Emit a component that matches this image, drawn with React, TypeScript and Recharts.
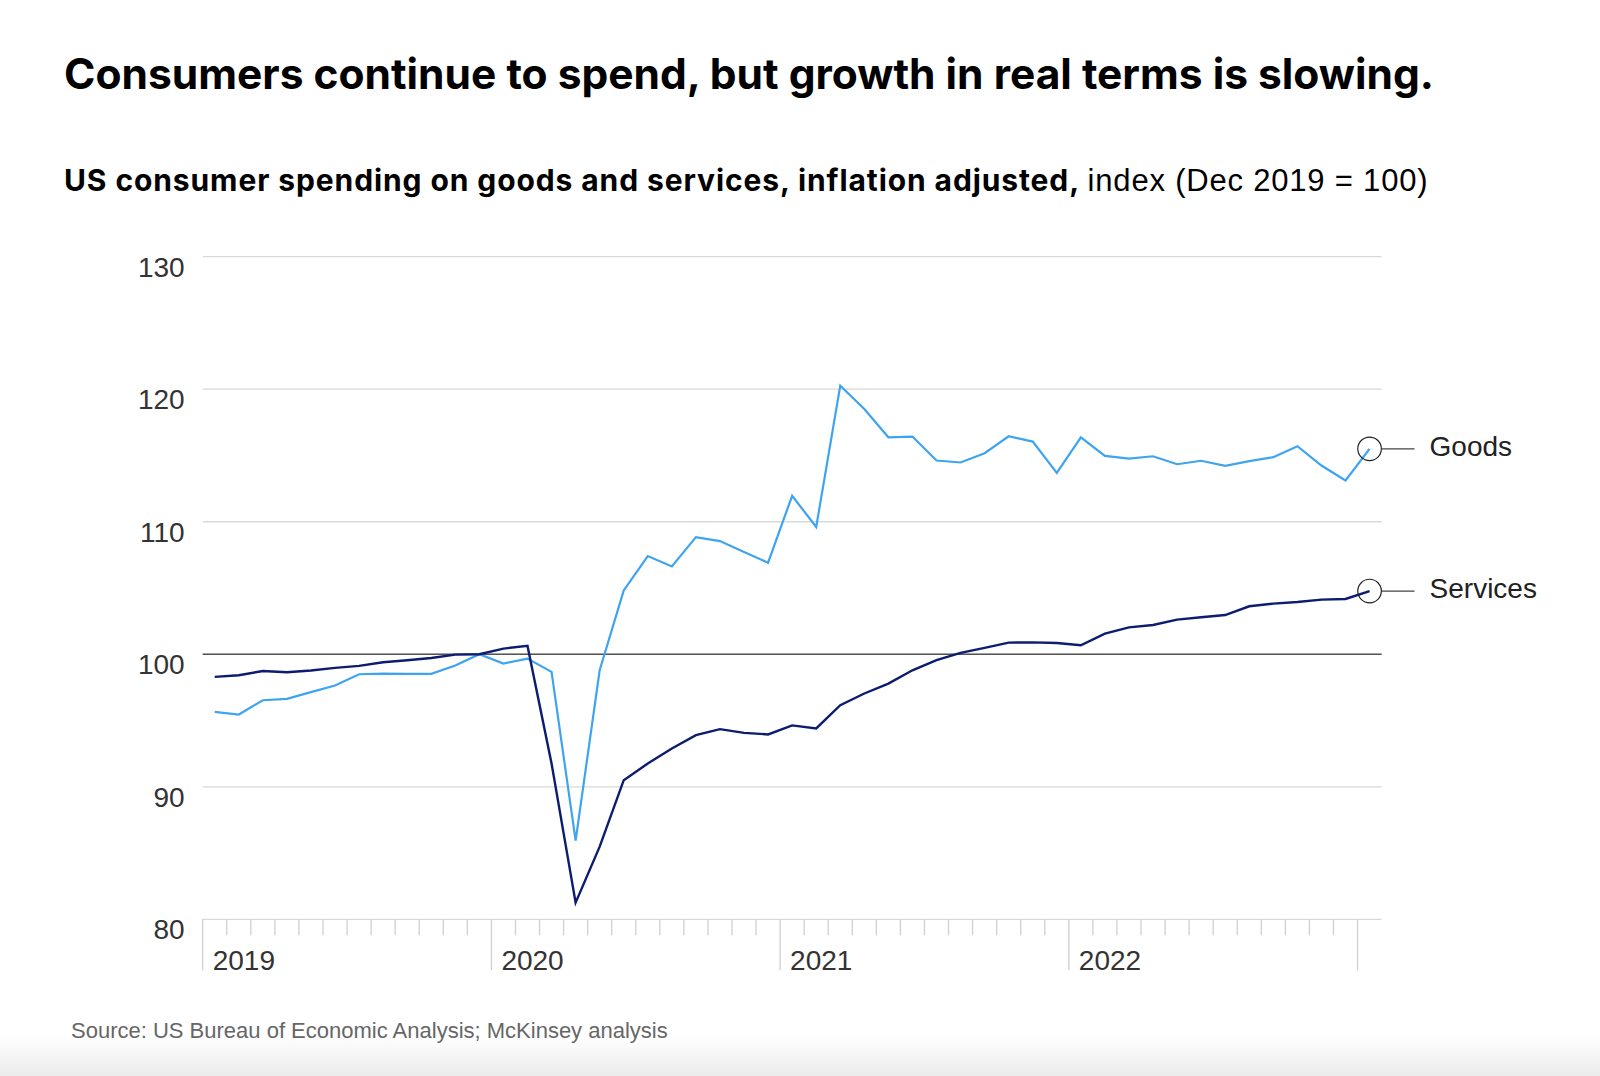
import React from 'react';
import { LineChart, Line, XAxis, YAxis, CartesianGrid, ReferenceLine } from 'recharts';

// Monthly, Jan 2019 – Jan 2023
const months = [
  'Jan 2019', 'Feb 2019', 'Mar 2019', 'Apr 2019', 'May 2019', 'Jun 2019',
  'Jul 2019', 'Aug 2019', 'Sep 2019', 'Oct 2019', 'Nov 2019', 'Dec 2019',
  'Jan 2020', 'Feb 2020', 'Mar 2020', 'Apr 2020', 'May 2020', 'Jun 2020',
  'Jul 2020', 'Aug 2020', 'Sep 2020', 'Oct 2020', 'Nov 2020', 'Dec 2020',
  'Jan 2021', 'Feb 2021', 'Mar 2021', 'Apr 2021', 'May 2021', 'Jun 2021',
  'Jul 2021', 'Aug 2021', 'Sep 2021', 'Oct 2021', 'Nov 2021', 'Dec 2021',
  'Jan 2022', 'Feb 2022', 'Mar 2022', 'Apr 2022', 'May 2022', 'Jun 2022',
  'Jul 2022', 'Aug 2022', 'Sep 2022', 'Oct 2022', 'Nov 2022', 'Dec 2022',
  'Jan 2023',
];

const goods = [
  95.65, 95.45, 96.53, 96.63, 97.14, 97.64, 98.49, 98.54, 98.52, 98.52, 99.15, 100.0,
  99.3, 99.67, 98.67, 85.93, 98.79, 104.82, 107.41, 106.63, 108.84, 108.54, 107.71, 106.91,
  111.96, 109.6, 120.27, 118.51, 116.37, 116.43, 114.62, 114.47, 115.17, 116.45, 116.05, 113.69,
  116.37, 114.97, 114.77, 114.94, 114.34, 114.6, 114.22, 114.57, 114.87, 115.7, 114.24, 113.11,
  115.5,
];

const services = [
  98.29, 98.42, 98.74, 98.64, 98.77, 98.97, 99.12, 99.4, 99.55, 99.72, 99.97, 100.0,
  100.43, 100.63, 91.76, 81.26, 85.48, 90.5, 91.76, 92.89, 93.9, 94.35, 94.07, 93.95,
  94.63, 94.4, 96.16, 97.04, 97.79, 98.79, 99.55, 100.1, 100.48, 100.88, 100.9, 100.85,
  100.68, 101.56, 102.03, 102.21, 102.61, 102.79, 102.96, 103.62, 103.82, 103.94, 104.12, 104.17,
  104.77,
];

const yearLabels = ['2019', '2020', '2021', '2022'];
const yTicks = [80, 90, 100, 110, 120, 130];

const GOODS_COLOR = '#3ea4f0';
const SERVICES_COLOR = '#0c1c6e';
const SANS = '"Liberation Sans", Arial, sans-serif';
const HEAD = 'Inter, "Liberation Sans", sans-serif';

// x sits in the middle of each month so the ticks fall on month boundaries
const data = months.map((m, i) => ({ month: m, x: i + 0.5, goods: goods[i], services: services[i] }));
const monthTicks = months.map((_, i) => i);

const YTick = (props: any) => {
  const { x, y, payload } = props;
  return (
    <text x={x - 18} y={y + 20} textAnchor="end" fontSize={28} fill="#333" fontFamily={SANS}>
      {payload.value}
    </text>
  );
};

const XTick = (props: any) => {
  const { x, y, payload } = props;
  const isYear = payload.value % 12 === 0;
  const label = yearLabels[payload.value / 12];
  return (
    <g>
      <line x1={x} y1={y} x2={x} y2={y + (isYear ? 51 : 16)} stroke="#d0d0d0" strokeWidth={1.3} />
      {isYear && label && (
        <text x={x + 10} y={y + 51} fontSize={28} fill="#333" fontFamily={SANS}>
          {label}
        </text>
      )}
    </g>
  );
};

// circle + leader + series name on the last point only
const endMarker = (name: string) => (props: any) => {
  const { cx, cy, index } = props;
  if (index !== months.length - 1) return <g key={`${name}-${index}`} />;
  return (
    <g key={`${name}-end`}>
      <circle cx={cx} cy={cy} r={11.8} fill="none" stroke="#222" strokeWidth={1.2} />
      <line x1={cx + 11.8} y1={cy} x2={cx + 45} y2={cy} stroke="#444" strokeWidth={1.2} />
      <text x={cx + 60} y={cy + 7} fontSize={28} fill="#222" fontFamily={SANS}>
        {name}
      </text>
    </g>
  );
};

export default function App() {
  return (
    <div
      style={{
        position: 'absolute',
        left: 0,
        top: 0,
        width: 1600,
        height: 1076,
        background: 'linear-gradient(to bottom, #fff 0px, #fff 1035px, #ebebeb 1076px)',
        overflow: 'hidden',
      }}
    >
      <div
        style={{
          position: 'absolute',
          left: 64,
          top: 53,
          fontFamily: HEAD,
          fontWeight: 700,
          fontSize: 42.5,
          lineHeight: '42px',
          color: '#000',
          whiteSpace: 'nowrap',
        }}
      >
        Consumers continue to spend, but growth in real terms is slowing.
      </div>
      <div
        style={{
          position: 'absolute',
          left: 64,
          top: 165,
          fontSize: 30,
          lineHeight: '30px',
          color: '#000',
          whiteSpace: 'nowrap',
        }}
      >
        <span style={{ fontFamily: HEAD, fontWeight: 700, letterSpacing: 0.9 }}>
          US consumer spending on goods and services, inflation adjusted,
        </span>{' '}
        <span style={{ fontFamily: SANS, fontSize: 31, letterSpacing: 0.8 }}>index (Dec 2019 = 100)</span>
      </div>
      <div
        style={{
          position: 'absolute',
          left: 71,
          top: 1020,
          fontFamily: SANS,
          fontSize: 22,
          lineHeight: '22px',
          color: '#666',
          whiteSpace: 'nowrap',
        }}
      >
        Source: US Bureau of Economic Analysis; McKinsey analysis
      </div>
      <div style={{ position: 'absolute', left: 0, top: 0 }}>
        <LineChart
          width={1600}
          height={1076}
          data={data}
          margin={{ top: 256.7, right: 218.4, bottom: 96.7, left: 142.7 }}
        >
          <CartesianGrid vertical={false} stroke="#d9d9d9" strokeWidth={1.3} />
          <XAxis
            type="number"
            dataKey="x"
            domain={[0, months.length]}
            ticks={monthTicks}
            interval={0}
            height={60}
            axisLine={false}
            tickLine={false}
            tickSize={0}
            tickMargin={0}
            tick={<XTick />}
          />
          <YAxis
            type="number"
            domain={[80, 130]}
            ticks={yTicks}
            interval={0}
            width={60}
            axisLine={false}
            tickLine={false}
            tickSize={0}
            tickMargin={0}
            tick={<YTick />}
          />
          <ReferenceLine y={100} stroke="#555" strokeWidth={1.3} />
          <Line
            dataKey="goods"
            stroke={GOODS_COLOR}
            strokeWidth={2.2}
            dot={endMarker('Goods')}
            activeDot={false}
            isAnimationActive={false}
          />
          <Line
            dataKey="services"
            stroke={SERVICES_COLOR}
            strokeWidth={2.4}
            dot={endMarker('Services')}
            activeDot={false}
            isAnimationActive={false}
          />
        </LineChart>
      </div>
    </div>
  );
}
